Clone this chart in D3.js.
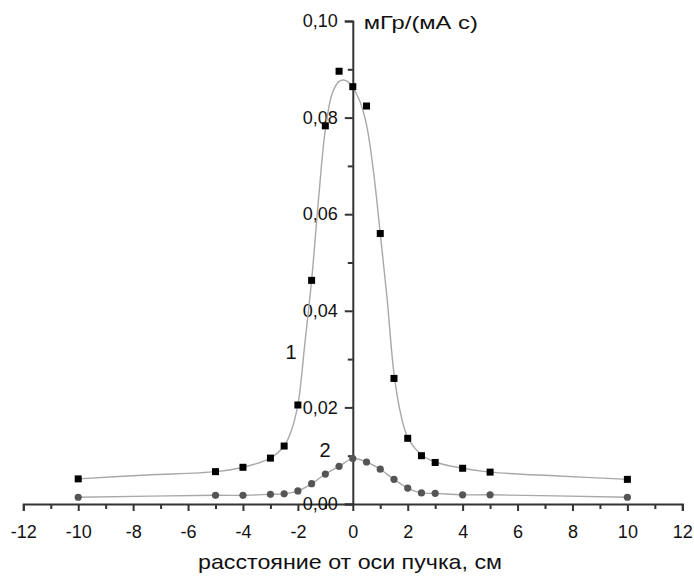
<!DOCTYPE html>
<html>
<head>
<meta charset="utf-8">
<script src="https://cdn.jsdelivr.net/npm/d3@7"></script>
<style>
  body { margin: 0; background: #fff; }
  svg { display: block; font-family: "Liberation Sans", Arial, sans-serif; }
</style>
</head>
<body>
<svg id="chart" width="694" height="577"></svg>
<script>
const width = 694;
const height = 577;

// measured points, curve 1 (squares)
const x1 = [-10, -5, -4, -3, -2.5, -2, -1.5, -1, -0.5, 0, 0.5, 1, 1.5, 2, 2.5, 3, 4, 5, 10];
const y1 = [0.0052, 0.0067, 0.0076, 0.0095, 0.0120, 0.0205, 0.0463, 0.0783, 0.0896, 0.0864, 0.0824, 0.0560, 0.0260, 0.0136, 0.0100, 0.0086, 0.0074, 0.0066, 0.0051];

// fitted curve 1
const fitX = [-10, -7.5, -5, -4, -3, -2.5, -2.25, -2, -1.75, -1.5, -1.25, -1, -0.75, -0.5, -0.35, -0.2, 0, 0.25, 0.5, 0.75, 1, 1.25, 1.5, 1.75, 2, 2.5, 3, 4, 5, 7.5, 10];
const fitY = [0.0052, 0.0060, 0.0067, 0.0076, 0.0095, 0.0120, 0.0150, 0.0205, 0.0330, 0.0463, 0.0630, 0.0775, 0.0850, 0.0875, 0.0878, 0.0875, 0.0862, 0.0835, 0.0785, 0.0690, 0.0560, 0.0425, 0.0270, 0.0185, 0.0138, 0.0102, 0.0087, 0.0074, 0.0066, 0.0058, 0.0051];

// measured points, curve 2 (circles)
const x2 = [-10, -5, -4, -3, -2.5, -2, -1.5, -1, -0.5, 0, 0.5, 1, 1.5, 2, 2.5, 3, 4, 5, 10];
const y2 = [0.0014, 0.0018, 0.0018, 0.0020, 0.0021, 0.0027, 0.0042, 0.0062, 0.0078, 0.0094, 0.0087, 0.0072, 0.0051, 0.0033, 0.0023, 0.0022, 0.0019, 0.0019, 0.0014];

const xTicks = [-12, -10, -8, -6, -4, -2, 0, 2, 4, 6, 8, 10, 12];
const xMinor = [-11, -9, -7, -5, -3, -1, 1, 3, 5, 7, 9, 11];
const yTicks = [0, 0.02, 0.04, 0.06, 0.08, 0.10];
const yMinor = [0.01, 0.03, 0.05, 0.07, 0.09];

const svg = d3.select("#chart");

const x = d3.scaleLinear().domain([-12, 12]).range([23.3, 682.3]);
const y = d3.scaleLinear().domain([0, 0.10]).range([504, 21]);

const locale = d3.formatLocale({ decimal: ",", thousands: " ", grouping: [3], currency: ["", ""], minus: "-" });
const fmtY = locale.format(".2f");

// x axis
svg.append("g")
  .attr("transform", `translate(0,${y(0)})`)
  .call(d3.axisBottom(x).tickValues(xTicks).tickSize(7).tickPadding(14).tickFormat(d => d));
svg.append("g")
  .attr("transform", `translate(0,${y(0)})`)
  .call(d3.axisBottom(x).tickValues(xMinor).tickSize(5).tickFormat(""))
  .select(".domain").remove();

// y axis
svg.append("g")
  .attr("transform", `translate(${x(0)},0)`)
  .call(d3.axisLeft(y).tickValues(yTicks).tickSize(8).tickPadding(7).tickFormat(fmtY));
svg.append("g")
  .attr("transform", `translate(${x(0)},0)`)
  .call(d3.axisLeft(y).tickValues(yMinor).tickSize(5).tickFormat(""))
  .select(".domain").remove();

svg.selectAll(".domain").attr("stroke", "#333").attr("stroke-width", 2);
svg.selectAll(".tick line").attr("stroke", "#333").attr("stroke-width", 2);
svg.selectAll(".tick text")
  .attr("fill", "#111")
  .attr("font-size", 18)
  .attr("font-family", "Liberation Sans, Arial, sans-serif");

// axis titles
svg.append("text")
  .attr("x", x(0) + 11)
  .attr("y", 29)
  .attr("font-size", 19)
  .attr("textLength", 114)
  .attr("lengthAdjust", "spacingAndGlyphs")
  .attr("fill", "#111")
  .text("мГр/(мА с)");

svg.append("text")
  .attr("x", 198)
  .attr("y", 569)
  .attr("font-size", 21)
  .attr("textLength", 304)
  .attr("lengthAdjust", "spacingAndGlyphs")
  .attr("fill", "#111")
  .text("расстояние от оси пучка, см");

// curves
const fit1 = fitX.map((d, i) => [d, fitY[i]]);
const pts1 = x1.map((d, i) => [d, y1[i]]);
const pts2 = x2.map((d, i) => [d, y2[i]]);

const line = d3.line()
  .x(d => x(d[0]))
  .y(d => y(d[1]))
  .curve(d3.curveCatmullRom.alpha(0.5));

svg.append("path")
  .datum(fit1)
  .attr("d", line)
  .attr("fill", "none")
  .attr("stroke", "#a8a8a8")
  .attr("stroke-width", 1.4);

svg.append("path")
  .datum(pts2)
  .attr("d", line)
  .attr("fill", "none")
  .attr("stroke", "#a8a8a8")
  .attr("stroke-width", 1.4);

// markers
svg.selectAll(".sq")
  .data(pts1)
  .enter()
  .append("rect")
  .attr("class", "sq")
  .attr("x", d => x(d[0]) - 3.5)
  .attr("y", d => y(d[1]) - 3.5)
  .attr("width", 7)
  .attr("height", 7)
  .attr("fill", "#000");

svg.selectAll(".dot")
  .data(pts2)
  .enter()
  .append("circle")
  .attr("class", "dot")
  .attr("cx", d => x(d[0]))
  .attr("cy", d => y(d[1]))
  .attr("r", 3.6)
  .attr("fill", "#555");

// curve labels
svg.append("text")
  .attr("x", 291)
  .attr("y", 359)
  .attr("text-anchor", "middle")
  .attr("font-size", 20)
  .attr("fill", "#111")
  .text("1");

svg.append("text")
  .attr("x", 325)
  .attr("y", 457)
  .attr("text-anchor", "middle")
  .attr("font-size", 20)
  .attr("fill", "#111")
  .text("2");
</script>
</body>
</html>
